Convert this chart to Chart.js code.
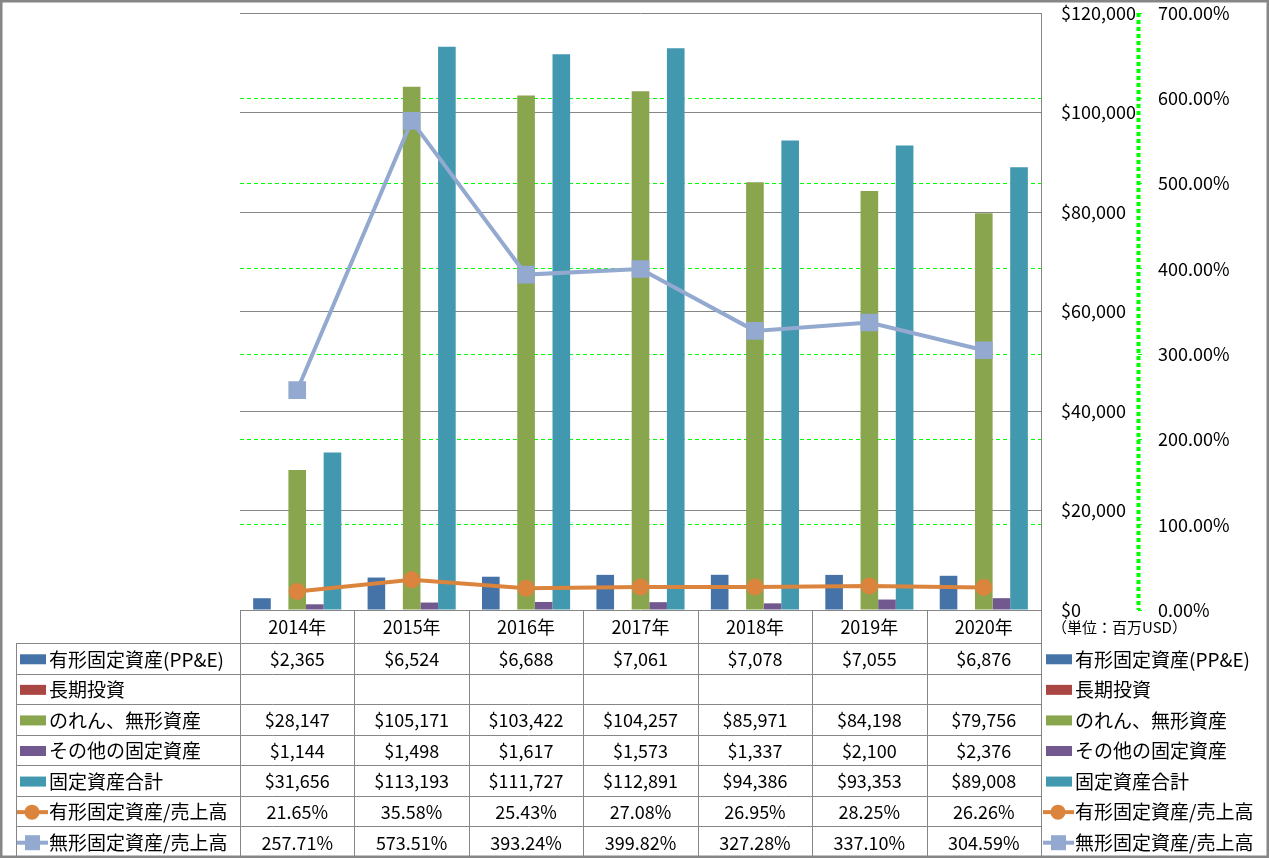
<!DOCTYPE html>
<html>
<head>
<meta charset="utf-8">
<script src="https://cdn.jsdelivr.net/npm/chart.js@4/dist/chart.umd.min.js"></script>
<style>
  html,body{margin:0;padding:0;background:#fff;}
  #wrap{width:1269px;height:858px;position:relative;}
</style>
</head>
<body>
<div id="wrap"><canvas id="c" width="1269" height="858"></canvas></div>
<script>
const years=["2014年","2015年","2016年","2017年","2018年","2019年","2020年"];
const ppe=[2365,6524,6688,7061,7078,7055,6876];
const longInvest=[null,null,null,null,null,null,null];
const goodwill=[28147,105171,103422,104257,85971,84198,79756];
const otherFixed=[1144,1498,1617,1573,1337,2100,2376];
const totalFixed=[31656,113193,111727,112891,94386,93353,89008];
const ppeRatio=[21.65,35.58,25.43,27.08,26.95,28.25,26.26];
const intangRatio=[257.71,573.51,393.24,399.82,327.28,337.10,304.59];

const FONT="'Noto Sans CJK JP', 'Noto Sans', sans-serif";
const GRAY="#868686";

const rows=[
  {label:"有形固定資産(PP&E)",color:"#4572A7",vals:ppe,fmt:"usd",kind:"bar"},
  {label:"長期投資",color:"#AA4643",vals:longInvest,fmt:"usd",kind:"bar"},
  {label:"のれん、無形資産",color:"#89A54E",vals:goodwill,fmt:"usd",kind:"bar"},
  {label:"その他の固定資産",color:"#71588F",vals:otherFixed,fmt:"usd",kind:"bar"},
  {label:"固定資産合計",color:"#4198AF",vals:totalFixed,fmt:"usd",kind:"bar"},
  {label:"有形固定資産/売上高",color:"#DB843D",vals:ppeRatio,fmt:"pct",kind:"circle"},
  {label:"無形固定資産/売上高",color:"#93A9CF",vals:intangRatio,fmt:"pct",kind:"square"}
];

function fmtVal(v,f){
  if(v===null||v===undefined) return "";
  if(f==="usd") return "$"+v.toLocaleString("en-US");
  return v.toFixed(2)+"%";
}

function swatch(ctx,r,x,y){
  ctx.fillStyle=r.color;
  ctx.strokeStyle=r.color;
  if(r.kind==="bar"){
    ctx.fillRect(x+3,y-5,26,10);
  }else{
    ctx.lineWidth=4;
    ctx.beginPath();ctx.moveTo(x,y);ctx.lineTo(x+31,y);ctx.stroke();
    if(r.kind==="circle"){
      ctx.beginPath();ctx.arc(x+15,y,7.5,0,Math.PI*2);ctx.fill();
    }else{
      ctx.fillRect(x+8,y-7.5,15,15);
    }
  }
}

// table under the chart + legend on the right
const tablePlugin={
  id:"tablePlugin",
  afterDraw(chart){
    const ctx=chart.ctx;
    const xs=chart.scales.x;
    const area=chart.chartArea;
    const colW=(area.right-area.left)/years.length;
    const top=area.bottom;
    const headH=33;
    const rowH=(857-top-headH)/rows.length;
    ctx.save();
    ctx.strokeStyle=GRAY;
    ctx.lineWidth=1;
    // vertical lines
    for(let i=0;i<=years.length;i++){
      const x=Math.round(area.left+i*colW)+0.5;
      ctx.beginPath();ctx.moveTo(x,top);ctx.lineTo(x,857);ctx.stroke();
    }
    ctx.beginPath();ctx.moveTo(16.5,top+headH);ctx.lineTo(16.5,857);ctx.stroke();
    // horizontal lines
    for(let j=0;j<=rows.length;j++){
      const y=Math.round(top+headH+j*rowH)+0.5;
      ctx.beginPath();ctx.moveTo(16,y);ctx.lineTo(area.right,y);ctx.stroke();
    }
    // header
    ctx.fillStyle="#000";
    ctx.textAlign="center";
    ctx.textBaseline="middle";
    ctx.font="18px "+FONT;
    years.forEach((y,i)=>{
      ctx.fillText(y,xs.getPixelForValue(i),top+headH/2+1);
    });
    // rows
    rows.forEach((r,j)=>{
      const cy=top+headH+j*rowH+rowH/2+1;
      ctx.font="18px "+FONT;
      ctx.textAlign="center";
      ctx.fillStyle="#000";
      r.vals.forEach((v,i)=>{
        ctx.fillText(fmtVal(v,r.fmt),xs.getPixelForValue(i),cy);
      });
      swatch(ctx,r,17,cy);
      swatch(ctx,r,1043,cy);
      ctx.fillStyle="#000";
      ctx.textAlign="left";
      ctx.font="19px "+FONT;
      ctx.fillText(r.label,49,cy);
      ctx.fillText(r.label,1075,cy);
    });
    ctx.font="15px "+FONT;
    ctx.textAlign="left";
    ctx.fillText("（単位：百万USD）",1052,top+headH/2+1);
    // dashed green axis line of the percent scale
    const y1=chart.scales.y1;
    ctx.strokeStyle="#00FF00";
    ctx.setLineDash([4,3]);
    ctx.beginPath();ctx.moveTo(Math.round(y1.left)+0.5,area.top);ctx.lineTo(Math.round(y1.left)+0.5,area.bottom);ctx.stroke();
    ctx.setLineDash([]);
    // outer frame
    ctx.strokeStyle=GRAY;
    ctx.strokeRect(0.5,0.5,1268,857);
    ctx.restore();
  }
};

function barSet(r){
  return {type:"bar",label:r.label,data:r.vals,backgroundColor:r.color,yAxisID:"y",order:2,
    barPercentage:1,categoryPercentage:0.77};
}

new Chart(document.getElementById("c"),{
  data:{
    labels:years,
    datasets:[
      {type:"line",label:rows[5].label,data:ppeRatio,yAxisID:"y1",order:0,
        borderColor:"#DB843D",backgroundColor:"#DB843D",borderWidth:4,tension:0,
        pointStyle:"circle",pointRadius:8.5,pointBackgroundColor:"#DB843D",pointBorderColor:"#DB843D",pointBorderWidth:0},
      {type:"line",label:rows[6].label,data:intangRatio,yAxisID:"y1",order:0,
        borderColor:"#93A9CF",backgroundColor:"#93A9CF",borderWidth:4,tension:0,
        pointStyle:"rect",pointRadius:12.5,pointBackgroundColor:"#93A9CF",pointBorderColor:"#93A9CF",pointBorderWidth:0},
      barSet(rows[0]),barSet(rows[1]),barSet(rows[2]),barSet(rows[3]),barSet(rows[4])
    ]
  },
  options:{
    responsive:false,
    animation:false,
    devicePixelRatio:1,
    layout:{autoPadding:false,padding:{left:240,top:13,bottom:248,right:0}},
    plugins:{legend:{display:false},tooltip:{enabled:false}},
    scales:{
      x:{type:"category",display:false,offset:true,grid:{display:false}},
      y:{position:"right",weight:0,min:0,max:120000,
        ticks:{stepSize:20000,padding:20,color:"#000",font:{family:FONT,size:18},
          callback:v=>"$"+Number(v).toLocaleString("en-US")},
        grid:{color:GRAY,lineWidth:1,drawTicks:false},
        border:{display:true,color:GRAY,width:1},
        afterFit(s){s.width=97;s.paddingTop=0;s.paddingBottom=0;}
      },
      y1:{position:"right",weight:1,min:0,max:700,
        ticks:{stepSize:100,padding:16,color:"#000",font:{family:FONT,size:18},
          callback:v=>Number(v).toFixed(2)+"%"},
        grid:{color:c=>(c.tick&&(c.tick.value===0||c.tick.value===700))?"rgba(0,0,0,0)":"#00FF00",
          tickColor:"#00FF00",tickLength:4,lineWidth:1},
        border:{display:false,dash:[4,3]},
        afterFit(s){s.width=131;s.paddingTop=0;s.paddingBottom=0;}
      }
    }
  },
  plugins:[tablePlugin]
});
</script>
</body>
</html>
